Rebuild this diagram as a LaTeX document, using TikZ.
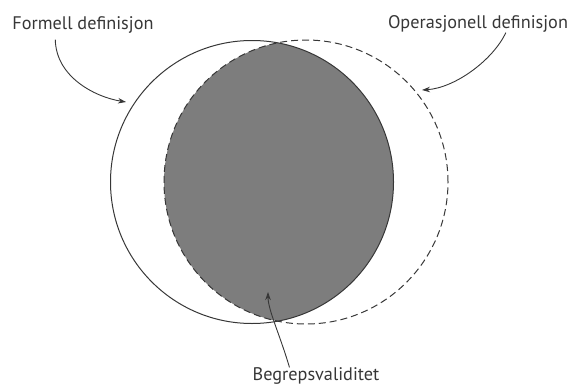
\documentclass[tikz,border=0pt]{standalone}
\usepackage{fontspec}
\setmainfont{PT Sans}
\usetikzlibrary{arrows.meta}
\definecolor{strek}{RGB}{55,55,55}
\definecolor{lins}{RGB}{125,125,125}
\newcommand{\formsirkel}{(252,205) circle (141.5)}
\newcommand{\opsirkel}{(306,205) circle (142)}
\newcommand{\pil}[4]{\draw[pil] (#1) .. controls (#2) and (#3) .. (#4)}
\tikzset{
	pil/.style={draw=strek, line width=0.9bp, -{Stealth[length=8bp,width=5.5bp]}},
	etikett/.style={text=strek, inner sep=0pt, font=\fontsize{18.3}{21}\selectfont}
}

\begin{document}
\begin{tikzpicture}[x=1bp,y=1bp]
	\useasboundingbox (0,0) rectangle (579,387);
	\begin{scope}
		\clip \formsirkel;
		\fill[lins] \opsirkel;
	\end{scope}
	\draw[strek, line width=1bp] \formsirkel;
	\draw[strek, line width=1bp, dash pattern=on 7bp off 4bp] \opsirkel;
	\node[etikett] (formell) at (83,362) {Formell definisjon};
	\node[etikett] (operasjonell) at (478,363) {Operasjonell definisjon};
	\node[etikett] (begrep) at (316,11) {Begrepsvaliditet};
	\coordinate (formtupp) at (126,285);
	\coordinate (optupp) at (422,297);
	\coordinate (begreptupp) at (268,95);
	\pil{[xshift=43bp,yshift=-6bp]formell.south west}{56,310}{95,290}{formtupp};
	\pil{[xshift=118bp]operasjonell.south west}{493,327}{455,299}{optupp};
	\pil{[xshift=37bp]begrep.north west}{280,52}{268,77}{begreptupp};
\end{tikzpicture}
\end{document}
